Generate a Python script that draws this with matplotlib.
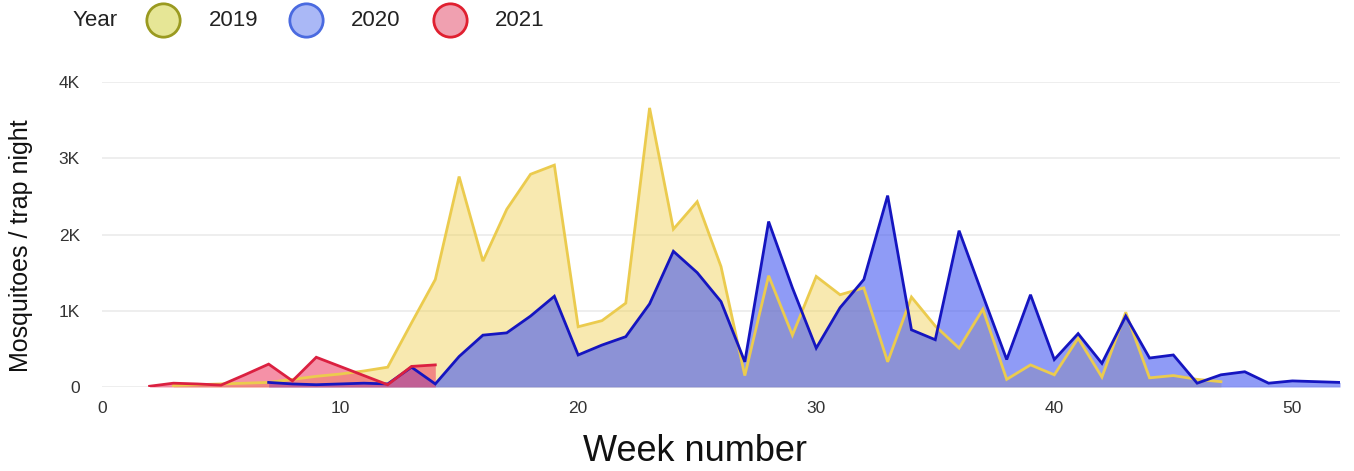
import matplotlib
matplotlib.use("Agg")
import matplotlib.pyplot as plt
from matplotlib.lines import Line2D

plt.rcParams['font.family'] = ['Liberation Sans', 'DejaVu Sans']

# mosquitoes / trap night per week
weeks_2019 = list(range(3, 48))
vals_2019 = [20, 30, 40, 50, 60, 100, 140, 170, 210, 260, 840, 1410, 2760, 1650, 2330,
             2790, 2910, 790, 870, 1100, 3660, 2070, 2430, 1580, 150, 1460, 680, 1450,
             1210, 1300, 330, 1180, 800, 510, 1020, 100, 290, 160, 640, 130, 980, 120,
             150, 100, 70]

weeks_2020 = list(range(7, 53))
vals_2020 = [60, 40, 30, 40, 50, 40, 260, 40, 400, 680, 710, 930, 1190, 420, 550, 660,
             1090, 1780, 1500, 1120, 330, 2170, 1300, 510, 1040, 1410, 2510, 750, 620,
             2050, 1200, 360, 1210, 360, 700, 310, 930, 380, 420, 50, 160, 200, 50, 80,
             70, 60]

weeks_2021 = list(range(2, 15))
vals_2021 = [10, 50, 40, 25, 160, 300, 80, 390, 270, 150, 30, 270, 290]

years = ['2019', '2020', '2021']
line_cols = ['#EBCB4E', '#1515C0', '#DB2040']
fill_cols = ['#F0D050', '#4458F0', '#EE3860']
fill_alpha = [0.45, 0.6, 0.55]
leg_edge = ['#9A9A20', '#4A6AE0', '#E02030']
leg_face = ['#E6E696', '#AAB8F6', '#F0A0B0']

fig = plt.figure(figsize=(13.54, 4.71), dpi=100)
ax = fig.add_axes([102 / 1354, 84 / 471, (1340 - 102) / 1354, (388 - 83) / 471])

series = [(weeks_2019, vals_2019), (weeks_2020, vals_2020), (weeks_2021, vals_2021)]
# fills first, lines on top (plotly style)
for i, (w, v) in enumerate(series):
    ax.fill_between(w, 0, v, color=fill_cols[i], alpha=fill_alpha[i], lw=0, zorder=2 + i)
for i, (w, v) in enumerate(series):
    ax.plot(w, v, color=line_cols[i], lw=2, zorder=6 + i, solid_joinstyle='miter')

ax.set_xlim(0, 52)
ax.set_ylim(0, 4000)
ax.set_xticks([0, 10, 20, 30, 40, 50])
ax.set_yticks([0, 1000, 2000, 3000, 4000])
ax.set_yticklabels(['0', '1K', '2K', '3K', '4K'])
ax.grid(axis='y', color='#EBEBEB', lw=1.2, zorder=0)
ax.set_axisbelow(True)
for s in ax.spines.values():
    s.set_visible(False)
ax.tick_params(length=0, labelsize=12.5, colors='#333333', pad=10)
ax.tick_params(axis='y', pad=16)

ax.set_xlabel('Week number', fontsize=26, color='#111111')
ax.xaxis.set_label_coords((695 - 102) / 1238, -(435 - 388) / 305)
ax.set_ylabel('Mosquitoes / trap night', fontsize=18, color='#111111')
ax.yaxis.set_label_coords(-(102 - 33) / 1238, (388 - 247) / 305)

# legend across the top
ly = 1 - 20 / 471
fig.text(73 / 1354, ly, 'Year', fontsize=16, va='center', ha='left', color='#222222')
leg_x = [163, 306, 450]
lab_x = [209, 351, 495]
for i in range(3):
    fig.add_artist(Line2D([leg_x[i] / 1354], [ly], marker='o', markersize=24,
                          markerfacecolor=leg_face[i], markeredgecolor=leg_edge[i],
                          markeredgewidth=2, transform=fig.transFigure))
    fig.text(lab_x[i] / 1354, ly, years[i], fontsize=16, va='center', ha='left',
             color='#222222')

fig.savefig('out.png', dpi=100)
